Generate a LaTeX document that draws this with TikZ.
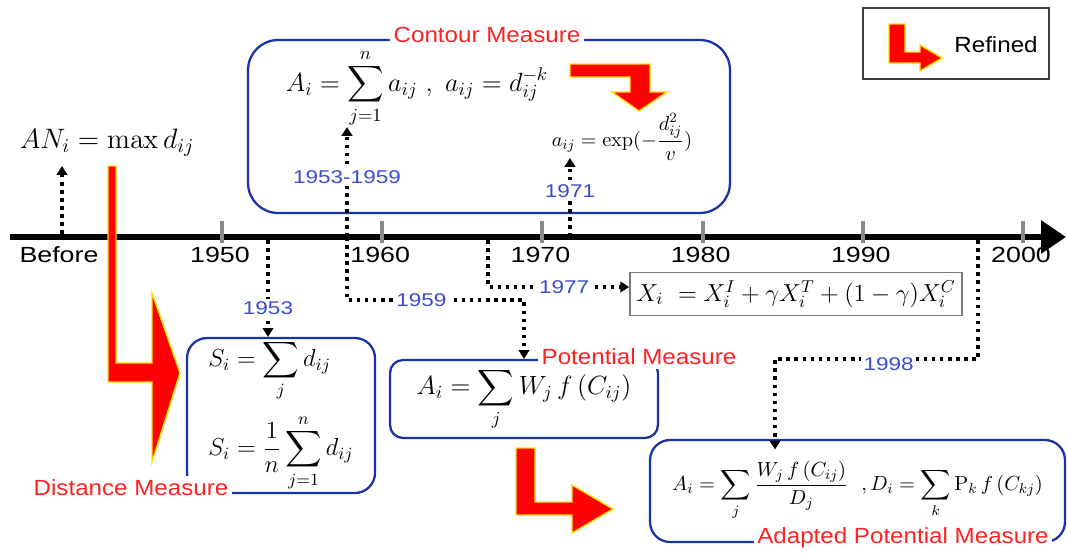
\RequirePackage{fix-cm}
\documentclass[tikz,border=0pt]{standalone}
\usepackage{amsmath}
\usepackage[no-math]{fontspec}
\setsansfont[FakeStretch=1.1]{Liberation Sans}
\newfontfamily\axisfont[FakeStretch=1.22]{Liberation Sans}
\usepackage{tikz}
\usetikzlibrary{arrows.meta,positioning}
\definecolor{boxblue}{HTML}{1A33A6}
\definecolor{yearblue}{HTML}{3A4CCF}
\definecolor{titlered}{HTML}{FF2222}
\definecolor{tickgray}{HTML}{8A8A8A}
\definecolor{framegray}{HTML}{7A7A7A}
\definecolor{glow}{HTML}{FFE000}
\tikzset{
  measurebox/.style={
    rectangle, rounded corners=#1, draw=boxblue, line width=1.3pt,
    align=center, inner sep=4pt
  },
  measurebox/.default=0.4cm,
  measuretitle/.style={fill=white, text=titlered, inner sep=2pt,
    font=\sffamily\fontsize{12.5}{15}\selectfont},
  yearlabel/.style={fill=white, text=yearblue, inner sep=1.5pt,
    font=\axisfont\fontsize{10.5}{12}\selectfont},
  axislabel/.style={font=\axisfont\fontsize{12.5}{15}\selectfont},
  yeararrow/.style={
    -{Triangle[length=5pt,width=6pt]}, line width=2pt,
    dash pattern=on 2pt off 2.6pt
  },
  refinedarrow/.style={fill=red, draw=glow, line width=0.8pt},
  formula/.style={font=\fontsize{#1}{#1}\selectfont, inner sep=1pt},
  formula/.default=15,
}

\begin{document}
\begin{tikzpicture}[x=0.02cm, y=-0.02cm]
    \useasboundingbox (0,0) rectangle (1067,552);

    % time axis
    \draw[line width=3.4pt, -{Triangle[length=0.5cm,width=0.64cm]}] (10,237) -- (1066,237);
    \foreach \yr [count=\k from 0] in {1950,1960,...,2000} {
        \draw[tickgray, line width=2.2pt] (222+160.2*\k,221) -- (222+160.2*\k,243);
        \node[axislabel] (y\yr) at (220+160.2*\k,255) {\yr};
    }
    \node[axislabel] (before) at (59,255) {Before};

    \coordinate (tbefore) at (62,234);
    \coordinate (ebefore) at (62,166);
    \coordinate (t1953) at (268,240);
    \coordinate (t1959) at (347,237);
    \coordinate (e1959) at (347,127);
    \coordinate (c1959) at (347,300);
    \coordinate (t1971) at (570,237);
    \coordinate (e1971) at (570,158);
    \coordinate (t1977) at (488,240);
    \coordinate (t1998) at (978,240);
    \coordinate (c1998) at (775,359);

    % measures
    \node[formula=16] (anform) at (107,143) {$AN_i = \max d_{ij}$};

    \node[measurebox=0.6cm, minimum width=9.64cm, minimum height=3.46cm] (contourbox) at (489,126.5) {};
    \node[measuretitle] (contourtitle) at (487,35) {Contour Measure};
    \node[formula=15] (contourform) at (417,88)
        {$\displaystyle A_i = \sum_{j=1}^{n} a_{ij}\ ,\ a_{ij} = d_{ij}^{-k}$};
    \node[formula=11.5] (expform) at (622,137)
        {$a_{ij} = \exp(-\dfrac{d_{ij}^{2}}{v})$};

    \node[measurebox=0.4cm, minimum width=3.76cm, minimum height=3.1cm, align=left, formula=14]
        (distbox) at (281,415.5)
        {$\displaystyle S_i = \sum_{j} d_{ij}$\\[6pt]
         $\displaystyle S_i = \frac{1}{n}\sum_{j=1}^{n} d_{ij}$};
    \node[measuretitle] (disttitle) at (131,488) {Distance Measure};

    \node[measurebox=0.26cm, minimum width=5.36cm, minimum height=1.56cm, formula=15]
        (potbox) at (524,399) {$\displaystyle A_i = \sum_{j} W_j\, f\,(C_{ij})$};
    \node[measuretitle] (pottitle) at (639,357) {Potential Measure};

    \node[rectangle, draw=framegray, line width=1pt, minimum width=6.64cm,
        minimum height=0.86cm, formula=14] (xbox) at (796,294)
        {$X_i\ = X_i^{I} + \gamma X_i^{T} + (1-\gamma) X_i^{C}$};

    \node[measurebox=0.4cm, minimum width=8.3cm, minimum height=2.04cm, formula=11.6]
        (adbox) at (857.5,491)
        {$\displaystyle A_i = \sum_{j} \frac{W_j\, f\,(C_{ij})}{D_j}\ \ , D_i = \sum_{k} \mathrm{P}_k\, f\,(C_{kj})$};
    \node[measuretitle] (adtitle) at (903,538) {Adapted Potential Measure};

    % legend
    \node[rectangle, draw=black!75, line width=1.2pt, minimum width=3.72cm,
        minimum height=1.42cm] (legend) at (956,43.5) {};
    \node[font=\sffamily\fontsize{12.5}{15}\selectfont] (legendtext) at (996,45) {Refined};

    % refined arrows
    \draw[refinedarrow] (108,166) -- (116,166) -- (116,363) -- (152,363) -- (152,293)
        -- (180,373) -- (152,462) -- (152,382) -- (108,382) -- cycle;
    \draw[refinedarrow] (570,64) -- (650,64) -- (650,92) -- (667,92) -- (639,111)
        -- (612,92) -- (630,92) -- (630,77) -- (570,77) -- cycle;
    \draw[refinedarrow] (516,448) -- (535,448) -- (535,502) -- (572,502) -- (572,485)
        -- (613,509) -- (572,533) -- (572,515) -- (516,515) -- cycle;
    \draw[refinedarrow] (889,24) -- (905,24) -- (905,52) -- (920,52) -- (920,45)
        -- (942,58) -- (920,71) -- (920,63) -- (889,63) -- cycle;

    % year connectors
    \draw[yeararrow] (tbefore) -- (ebefore);
    \draw[yeararrow] (t1953) -- node[yearlabel, pos=0.7] (l1953) {1953} (distbox.north -| t1953);
    \draw[yeararrow] (t1959) -- node[yearlabel, pos=0.545] (l1953b) {1953-1959} (e1959);
    \draw[yeararrow] (t1959) -- (c1959) -| node[yearlabel, pos=0.21] (l1959) {1959} (potbox.north);
    \draw[yeararrow] (t1971) -- node[yearlabel, pos=0.58] (l1971) {1971} (e1971);
    \draw[yeararrow] (t1977) |- node[yearlabel, pos=0.77] (l1977) {1977} ([yshift=4pt]xbox.west);
    \draw[yeararrow, shorten >=-6pt] (t1998) |- node[yearlabel, pos=0.72, yshift=-3pt] (l1998) {1998} (c1998)
        -- (c1998 |- adbox.north);
\end{tikzpicture}
\end{document}
